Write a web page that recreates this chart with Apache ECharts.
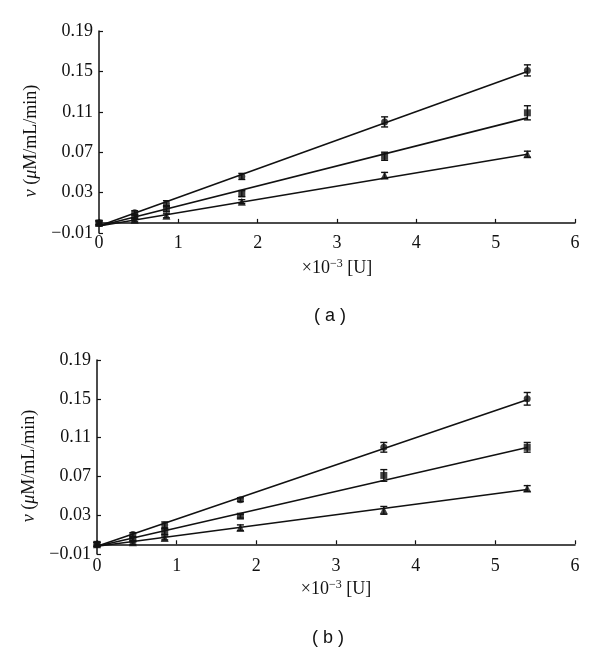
<!DOCTYPE html>
<html>
<head>
<meta charset="utf-8">
<script src="https://cdn.jsdelivr.net/npm/echarts@6/dist/echarts.min.js"></script>
<style>html,body{margin:0;padding:0;background:#fff}#c{width:600px;height:650px}</style>
</head>
<body>
<div id="c"></div>
<script>
// ---- data ----
var xValues = [0, 0.45, 0.85, 1.8, 3.6, 5.4];
var yTicks = [-0.01, 0.03, 0.07, 0.11, 0.15, 0.19];
var xTicks = [0, 1, 2, 3, 4, 5, 6];

// panel (a)
var aCircle = [0, 0.010, 0.019, 0.046, 0.100, 0.151];
var aCircleErr = [0.002, 0.002, 0.003, 0.003, 0.005, 0.0055];
var aSquare = [0, 0.006, 0.014, 0.029, 0.066, 0.109];
var aSquareErr = [0.002, 0.002, 0.003, 0.003, 0.004, 0.007];
var aTriangle = [0, 0.003, 0.007, 0.021, 0.047, 0.068];
var aTriangleErr = [0.002, 0.002, 0.002, 0.002, 0.003, 0.003];
var aFitCircle = [[0, -0.003], [5.4, 0.150]];
var aFitSquare = [[0, -0.003], [5.4, 0.104]];
var aFitTriangle = [[0, -0.003], [5.4, 0.068]];

// panel (b)
var bCircle = [0, 0.010, 0.020, 0.046, 0.100, 0.150];
var bCircleErr = [0.002, 0.002, 0.003, 0.002, 0.005, 0.0065];
var bSquare = [0, 0.005, 0.013, 0.029, 0.071, 0.100];
var bSquareErr = [0.002, 0.002, 0.003, 0.002, 0.006, 0.005];
var bTriangle = [0, 0.002, 0.0065, 0.017, 0.035, 0.0575];
var bTriangleErr = [0.002, 0.002, 0.002, 0.003, 0.004, 0.003];
var bFitCircle = [[0, -0.002], [5.4, 0.149]];
var bFitSquare = [[0, -0.002], [5.4, 0.0998]];
var bFitTriangle = [[0, -0.002], [5.4, 0.0565]];

var panelLabels = ['( a )', '( b )'];

// ---- helpers ----
function pairs(ys) { return xValues.map(function (x, i) { return [x, ys[i]]; }); }
function errData(ys, es) { return xValues.map(function (x, i) { return [x, ys[i] - es[i], ys[i] + es[i]]; }); }

var serif = 'Liberation Serif';
var black = '#111';

function errSeries(idx, ys, es) {
  return {
    type: 'custom', xAxisIndex: idx, yAxisIndex: idx, z: 3, silent: true,
    data: errData(ys, es),
    renderItem: function (params, api) {
      var lo = api.coord([api.value(0), api.value(1)]);
      var hi = api.coord([api.value(0), api.value(2)]);
      var w = 3.5;
      var st = { stroke: black, lineWidth: 1.4 };
      return { type: 'group', children: [
        { type: 'line', shape: { x1: lo[0], y1: lo[1], x2: hi[0], y2: hi[1] }, style: st },
        { type: 'line', shape: { x1: lo[0] - w, y1: lo[1], x2: lo[0] + w, y2: lo[1] }, style: st },
        { type: 'line', shape: { x1: hi[0] - w, y1: hi[1], x2: hi[0] + w, y2: hi[1] }, style: st }
      ]};
    }
  };
}
function pointSeries(idx, ys, symbol, size) {
  return { type: 'scatter', xAxisIndex: idx, yAxisIndex: idx, z: 4, data: pairs(ys),
    symbol: symbol, symbolSize: size, itemStyle: { color: black } };
}
function fitSeries(idx, pts) {
  return { type: 'line', xAxisIndex: idx, yAxisIndex: idx, z: 2, data: pts, symbol: 'none',
    lineStyle: { color: black, width: 1.6 } };
}

function xAxisDef(gi, margin) {
  return {
    type: 'value', gridIndex: gi, min: 0, max: 6, interval: 1,
    axisLine: { onZero: true, lineStyle: { color: black, width: 1.5 } },
    axisTick: { inside: true, length: 4, lineStyle: { color: black, width: 1.2 } },
    axisLabel: { color: black, fontFamily: serif, fontSize: 18, margin: margin },
    splitLine: { show: false },
    name: '{t|×10}{s|−3}{t| [U]}', nameLocation: 'middle', nameGap: 25,
    nameTextStyle: { rich: {
      t: { fontFamily: serif, fontSize: 18, color: black },
      s: { fontFamily: serif, fontSize: 12, color: black, verticalAlign: 'top', padding: [0, 0, 8, 0] }
    } }
  };
}
function yAxisDef(gi) {
  return {
    type: 'value', gridIndex: gi, min: -0.01, max: 0.19,
    axisLine: { lineStyle: { color: black, width: 1.5 } },
    axisTick: { inside: true, length: 4, customValues: yTicks, lineStyle: { color: black, width: 1.2 } },
    axisLabel: { color: black, fontFamily: serif, fontSize: 18, margin: 6, customValues: yTicks,
      formatter: function (v) { return (v < 0 ? '−' : '') + Math.abs(v).toFixed(2); } },
    splitLine: { show: false },
    name: '{i|v} ({i|μ}M/mL/min)', nameLocation: 'middle', nameGap: 58, nameRotate: 90,
    nameTextStyle: { fontFamily: serif, fontSize: 18, color: black, padding: [0, 18, 0, 0],
      rich: { i: { fontFamily: serif, fontSize: 18, fontStyle: 'italic', color: black } } }
  };
}

var chart = echarts.init(document.getElementById('c'));
chart.setOption({
  backgroundColor: '#fff',
  animation: false,
  title: [
    { text: panelLabels[0], left: 325, top: 302, textAlign: 'center',
      textStyle: { fontFamily: 'Liberation Sans', fontSize: 18, fontWeight: 'normal', color: black } },
    { text: panelLabels[1], left: 323, top: 624, textAlign: 'center',
      textStyle: { fontFamily: 'Liberation Sans', fontSize: 18, fontWeight: 'normal', color: black } }
  ],
  grid: [
    { left: 99, top: 31, width: 476, height: 202 },
    { left: 97, top: 360, width: 478, height: 194 }
  ],
  xAxis: [xAxisDef(0, 1), xAxisDef(1, 3)],
  yAxis: [yAxisDef(0), yAxisDef(1)],
  series: [
    fitSeries(0, aFitCircle), fitSeries(0, aFitSquare), fitSeries(0, aFitTriangle),
    errSeries(0, aCircle, aCircleErr), errSeries(0, aSquare, aSquareErr), errSeries(0, aTriangle, aTriangleErr),
    pointSeries(0, aCircle, 'circle', 7), pointSeries(0, aSquare, 'rect', 7), pointSeries(0, aTriangle, 'triangle', 8),
    fitSeries(1, bFitCircle), fitSeries(1, bFitSquare), fitSeries(1, bFitTriangle),
    errSeries(1, bCircle, bCircleErr), errSeries(1, bSquare, bSquareErr), errSeries(1, bTriangle, bTriangleErr),
    pointSeries(1, bCircle, 'circle', 7), pointSeries(1, bSquare, 'rect', 7), pointSeries(1, bTriangle, 'triangle', 8)
  ]
});
</script>
</body>
</html>
